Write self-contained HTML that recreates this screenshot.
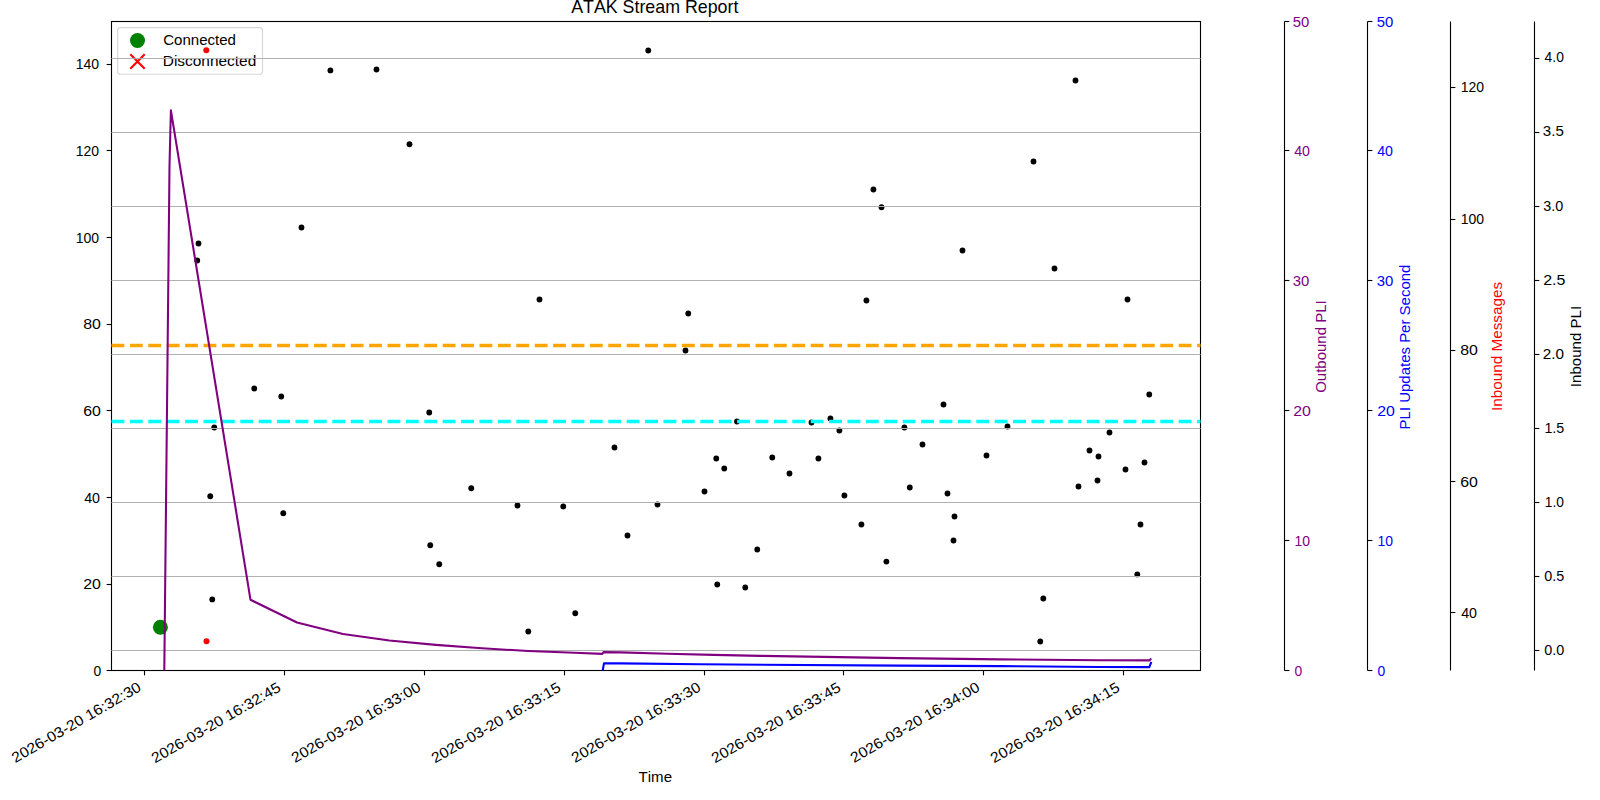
<!DOCTYPE html><html><head><meta charset="utf-8"><title>ATAK Stream Report</title><style>html,body{margin:0;padding:0;background:#fff;overflow:hidden}svg{display:block}text{font-family:"Liberation Sans",sans-serif;font-kerning:none}</style></head><body>
<svg width="1600" height="800" viewBox="0 0 1600 800">
<defs><clipPath id="ax"><rect x="111.2" y="21.2" width="1089.2" height="649.3"/></clipPath></defs>
<rect x="0" y="0" width="1600" height="800" fill="#fff"/>
<text x="571.20" y="13.00" fill="#000" font-size="17.584" textLength="167.19" lengthAdjust="spacingAndGlyphs">ATAK Stream Report</text>
<text x="638.60" y="782.00" fill="#000" font-size="14.653" textLength="33.44" lengthAdjust="spacingAndGlyphs">Time</text>
<text x="15.36" y="763.20" fill="#000" font-size="14.653" textLength="146.32" lengthAdjust="spacingAndGlyphs" transform="rotate(-30 15.36 763.20)">2026-03-20 16:32:30</text>
<text x="155.10" y="763.60" fill="#000" font-size="14.653" textLength="146.34" lengthAdjust="spacingAndGlyphs" transform="rotate(-30 155.10 763.60)">2026-03-20 16:32:45</text>
<text x="295.10" y="763.20" fill="#000" font-size="14.653" textLength="146.32" lengthAdjust="spacingAndGlyphs" transform="rotate(-30 295.10 763.20)">2026-03-20 16:33:00</text>
<text x="435.10" y="763.60" fill="#000" font-size="14.653" textLength="146.34" lengthAdjust="spacingAndGlyphs" transform="rotate(-30 435.10 763.60)">2026-03-20 16:33:15</text>
<text x="575.10" y="763.20" fill="#000" font-size="14.653" textLength="146.32" lengthAdjust="spacingAndGlyphs" transform="rotate(-30 575.10 763.20)">2026-03-20 16:33:30</text>
<text x="715.10" y="763.60" fill="#000" font-size="14.653" textLength="146.34" lengthAdjust="spacingAndGlyphs" transform="rotate(-30 715.10 763.60)">2026-03-20 16:33:45</text>
<text x="854.10" y="763.20" fill="#000" font-size="14.653" textLength="146.32" lengthAdjust="spacingAndGlyphs" transform="rotate(-30 854.10 763.20)">2026-03-20 16:34:00</text>
<text x="994.10" y="763.60" fill="#000" font-size="14.653" textLength="146.34" lengthAdjust="spacingAndGlyphs" transform="rotate(-30 994.10 763.60)">2026-03-20 16:34:15</text>
<text x="93.60" y="676.00" fill="#000" font-size="14.653" textLength="7.73" lengthAdjust="spacingAndGlyphs">0</text>
<text x="83.20" y="589.00" fill="#000" font-size="14.653" textLength="17.67" lengthAdjust="spacingAndGlyphs">20</text>
<text x="84.20" y="503.00" fill="#000" font-size="14.653" textLength="15.80" lengthAdjust="spacingAndGlyphs">40</text>
<text x="83.20" y="416.00" fill="#000" font-size="14.653" textLength="17.67" lengthAdjust="spacingAndGlyphs">60</text>
<text x="83.20" y="329.00" fill="#000" font-size="14.653" textLength="17.67" lengthAdjust="spacingAndGlyphs">80</text>
<text x="75.80" y="243.00" fill="#000" font-size="14.653" textLength="23.33" lengthAdjust="spacingAndGlyphs">100</text>
<text x="75.80" y="156.00" fill="#000" font-size="14.653" textLength="23.33" lengthAdjust="spacingAndGlyphs">120</text>
<text x="75.80" y="69.00" fill="#000" font-size="14.653" textLength="23.33" lengthAdjust="spacingAndGlyphs">140</text>
<circle cx="160.4" cy="627.3" r="7.5" fill="#008000"/>
<line x1="106.64" y1="670.5" x2="111.5" y2="670.5" stroke="#000" stroke-width="1.111"/>
<line x1="106.64" y1="584.5" x2="111.5" y2="584.5" stroke="#000" stroke-width="1.111"/>
<line x1="106.64" y1="497.5" x2="111.5" y2="497.5" stroke="#000" stroke-width="1.111"/>
<line x1="106.64" y1="410.5" x2="111.5" y2="410.5" stroke="#000" stroke-width="1.111"/>
<line x1="106.64" y1="324.5" x2="111.5" y2="324.5" stroke="#000" stroke-width="1.111"/>
<line x1="106.64" y1="237.5" x2="111.5" y2="237.5" stroke="#000" stroke-width="1.111"/>
<line x1="106.64" y1="150.5" x2="111.5" y2="150.5" stroke="#000" stroke-width="1.111"/>
<line x1="106.64" y1="64.5" x2="111.5" y2="64.5" stroke="#000" stroke-width="1.111"/>
<line x1="144.5" y1="670.5" x2="144.5" y2="675.36" stroke="#000" stroke-width="1.111"/>
<line x1="284.5" y1="670.5" x2="284.5" y2="675.36" stroke="#000" stroke-width="1.111"/>
<line x1="424.5" y1="670.5" x2="424.5" y2="675.36" stroke="#000" stroke-width="1.111"/>
<line x1="564.5" y1="670.5" x2="564.5" y2="675.36" stroke="#000" stroke-width="1.111"/>
<line x1="704.5" y1="670.5" x2="704.5" y2="675.36" stroke="#000" stroke-width="1.111"/>
<line x1="843.5" y1="670.5" x2="843.5" y2="675.36" stroke="#000" stroke-width="1.111"/>
<line x1="983.5" y1="670.5" x2="983.5" y2="675.36" stroke="#000" stroke-width="1.111"/>
<line x1="1123.5" y1="670.5" x2="1123.5" y2="675.36" stroke="#000" stroke-width="1.111"/>
<rect x="117.6" y="27.6" width="144.9" height="46.7" rx="2.8" ry="2.8" fill="#fff" fill-opacity="0.8" stroke="#cccccc" stroke-opacity="0.8" stroke-width="1.11"/>
<circle cx="137.5" cy="40.5" r="7.5" fill="#008000"/>
<path d="M130.3 54.3 L144.7 68.7 M144.7 54.3 L130.3 68.7" stroke="#ff0000" stroke-width="2.1" fill="none"/>
<text x="163.20" y="45.00" fill="#000" font-size="14.653" textLength="72.74" lengthAdjust="spacingAndGlyphs">Connected</text>
<text x="162.80" y="66.00" fill="#000" font-size="14.653" textLength="93.49" lengthAdjust="spacingAndGlyphs">Disconnected</text>
<rect x="111.5" y="21.5" width="1089.0" height="649.0" fill="none" stroke="#000" stroke-width="1.111"/>
<g fill="#000"><circle cx="198.5" cy="243.5" r="2.9"/><circle cx="197.25" cy="260.5" r="2.9"/><circle cx="214.25" cy="427.5" r="2.9"/><circle cx="210.25" cy="496.25" r="2.9"/><circle cx="212.25" cy="599.4" r="2.9"/><circle cx="254.25" cy="388.5" r="2.9"/><circle cx="281.25" cy="396.5" r="2.9"/><circle cx="283.25" cy="513.25" r="2.9"/><circle cx="301.5" cy="227.5" r="2.9"/><circle cx="330.4" cy="70.4" r="2.9"/><circle cx="376.5" cy="69.5" r="2.9"/><circle cx="409.5" cy="144.25" r="2.9"/><circle cx="429.25" cy="412.5" r="2.9"/><circle cx="430.25" cy="545.25" r="2.9"/><circle cx="439.25" cy="564.25" r="2.9"/><circle cx="471.25" cy="488.25" r="2.9"/><circle cx="517.5" cy="505.5" r="2.9"/><circle cx="528.3" cy="631.5" r="2.9"/><circle cx="539.5" cy="299.5" r="2.9"/><circle cx="563.25" cy="506.5" r="2.9"/><circle cx="575.25" cy="613.25" r="2.9"/><circle cx="614.5" cy="447.5" r="2.9"/><circle cx="627.5" cy="535.5" r="2.9"/><circle cx="648.25" cy="50.5" r="2.9"/><circle cx="657.5" cy="504.5" r="2.9"/><circle cx="685.5" cy="350.5" r="2.9"/><circle cx="688.25" cy="313.5" r="2.9"/><circle cx="704.5" cy="491.5" r="2.9"/><circle cx="716.25" cy="458.5" r="2.9"/><circle cx="717.25" cy="584.5" r="2.9"/><circle cx="724.25" cy="468.5" r="2.9"/><circle cx="737" cy="421.5" r="2.9"/><circle cx="745.25" cy="587.5" r="2.9"/><circle cx="757.25" cy="549.5" r="2.9"/><circle cx="772.25" cy="457.5" r="2.9"/><circle cx="789.5" cy="473.5" r="2.9"/><circle cx="811.5" cy="422.5" r="2.9"/><circle cx="818.4" cy="458.5" r="2.9"/><circle cx="830.4" cy="418.5" r="2.9"/><circle cx="839.4" cy="430.5" r="2.9"/><circle cx="844.4" cy="495.5" r="2.9"/><circle cx="861.4" cy="524.5" r="2.9"/><circle cx="866.4" cy="300.5" r="2.9"/><circle cx="873.4" cy="189.5" r="2.9"/><circle cx="881.5" cy="207.25" r="2.9"/><circle cx="886.4" cy="561.6" r="2.9"/><circle cx="904.4" cy="427.5" r="2.9"/><circle cx="909.8" cy="487.5" r="2.9"/><circle cx="922.5" cy="444.5" r="2.9"/><circle cx="943.5" cy="404.5" r="2.9"/><circle cx="947.5" cy="493.5" r="2.9"/><circle cx="953.5" cy="540.5" r="2.9"/><circle cx="954.5" cy="516.5" r="2.9"/><circle cx="962.5" cy="250.5" r="2.9"/><circle cx="986.5" cy="455.5" r="2.9"/><circle cx="1007.5" cy="426.5" r="2.9"/><circle cx="1033.5" cy="161.5" r="2.9"/><circle cx="1040.25" cy="641.5" r="2.9"/><circle cx="1043.3" cy="598.5" r="2.9"/><circle cx="1054.5" cy="268.5" r="2.9"/><circle cx="1075.5" cy="80.5" r="2.9"/><circle cx="1078.5" cy="486.5" r="2.9"/><circle cx="1089.5" cy="450.5" r="2.9"/><circle cx="1097.5" cy="480.5" r="2.9"/><circle cx="1098.5" cy="456.5" r="2.9"/><circle cx="1109.5" cy="432.5" r="2.9"/><circle cx="1125.5" cy="469.5" r="2.9"/><circle cx="1127.5" cy="299.5" r="2.9"/><circle cx="1137.3" cy="574.4" r="2.9"/><circle cx="1140.5" cy="524.5" r="2.9"/><circle cx="1144.5" cy="462.5" r="2.9"/><circle cx="1149.25" cy="394.5" r="2.9"/></g>
<line x1="111.5" y1="58.5" x2="1200.5" y2="58.5" stroke="#b0b0b0" stroke-width="1.111"/>
<line x1="111.5" y1="132.5" x2="1200.5" y2="132.5" stroke="#b0b0b0" stroke-width="1.111"/>
<line x1="111.5" y1="206.5" x2="1200.5" y2="206.5" stroke="#b0b0b0" stroke-width="1.111"/>
<line x1="111.5" y1="280.5" x2="1200.5" y2="280.5" stroke="#b0b0b0" stroke-width="1.111"/>
<line x1="111.5" y1="354.5" x2="1200.5" y2="354.5" stroke="#b0b0b0" stroke-width="1.111"/>
<line x1="111.5" y1="428.5" x2="1200.5" y2="428.5" stroke="#b0b0b0" stroke-width="1.111"/>
<line x1="111.5" y1="502.5" x2="1200.5" y2="502.5" stroke="#b0b0b0" stroke-width="1.111"/>
<line x1="111.5" y1="576.5" x2="1200.5" y2="576.5" stroke="#b0b0b0" stroke-width="1.111"/>
<line x1="111.5" y1="650.5" x2="1200.5" y2="650.5" stroke="#b0b0b0" stroke-width="1.111"/>
<line x1="111.5" y1="345.4" x2="1200.5" y2="345.4" stroke="#ffa500" stroke-width="3.47" stroke-dasharray="12.85 5.55"/>
<line x1="111.5" y1="421.4" x2="1200.5" y2="421.4" stroke="#00ffff" stroke-width="3.47" stroke-dasharray="12.85 5.55"/>
<path d="M164.3 670.5 L169.5 165.9 L170.9 110.3 L250.5 599.8 L297 622.5 L343 634 L389.4 640.5 L435.7 644.9 L482 648.3 L528.3 651.0 L574.6 652.8 L602.3 653.9 L603.5 652.1 L620.9 652.4 L667.2 653.7 L713.5 654.9 L760 655.85 L900 658.1 L1000 659.4 L1100 660.25 L1149.3 660.4 L1150.5 659.3" fill="none" stroke="#800080" stroke-width="2.08" stroke-linejoin="round" stroke-linecap="square" clip-path="url(#ax)"/>
<path d="M602.7 670.5 L604 663.4 L620 663.4 L700 664.25 L900 665.65 L1000 666.1 L1100 667 L1149.3 667.1 L1151 662.75" fill="none" stroke="#0000ff" stroke-width="2.08" stroke-linejoin="round" stroke-linecap="square" clip-path="url(#ax)"/>
<circle cx="206.3" cy="50.3" r="3" fill="#ff0000"/><circle cx="206.5" cy="641.3" r="3" fill="#ff0000"/>
<line x1="1284.5" y1="21.5" x2="1284.5" y2="670.5" stroke="#000" stroke-width="1.111"/>
<line x1="1367.5" y1="21.5" x2="1367.5" y2="670.5" stroke="#000" stroke-width="1.111"/>
<line x1="1450.5" y1="21.5" x2="1450.5" y2="670.5" stroke="#000" stroke-width="1.111"/>
<line x1="1534.5" y1="21.5" x2="1534.5" y2="670.5" stroke="#000" stroke-width="1.111"/>
<line x1="1284.5" y1="670.5" x2="1289.36" y2="670.5" stroke="#000" stroke-width="1.111"/>
<line x1="1284.5" y1="540.5" x2="1289.36" y2="540.5" stroke="#000" stroke-width="1.111"/>
<line x1="1284.5" y1="410.5" x2="1289.36" y2="410.5" stroke="#000" stroke-width="1.111"/>
<line x1="1284.5" y1="280.5" x2="1289.36" y2="280.5" stroke="#000" stroke-width="1.111"/>
<line x1="1284.5" y1="150.5" x2="1289.36" y2="150.5" stroke="#000" stroke-width="1.111"/>
<line x1="1284.5" y1="21.5" x2="1289.36" y2="21.5" stroke="#000" stroke-width="1.111"/>
<line x1="1367.5" y1="670.5" x2="1372.36" y2="670.5" stroke="#000" stroke-width="1.111"/>
<line x1="1367.5" y1="540.5" x2="1372.36" y2="540.5" stroke="#000" stroke-width="1.111"/>
<line x1="1367.5" y1="410.5" x2="1372.36" y2="410.5" stroke="#000" stroke-width="1.111"/>
<line x1="1367.5" y1="280.5" x2="1372.36" y2="280.5" stroke="#000" stroke-width="1.111"/>
<line x1="1367.5" y1="150.5" x2="1372.36" y2="150.5" stroke="#000" stroke-width="1.111"/>
<line x1="1367.5" y1="21.5" x2="1372.36" y2="21.5" stroke="#000" stroke-width="1.111"/>
<line x1="1450.5" y1="612.5" x2="1455.36" y2="612.5" stroke="#000" stroke-width="1.111"/>
<line x1="1450.5" y1="481.5" x2="1455.36" y2="481.5" stroke="#000" stroke-width="1.111"/>
<line x1="1450.5" y1="350.5" x2="1455.36" y2="350.5" stroke="#000" stroke-width="1.111"/>
<line x1="1450.5" y1="219.5" x2="1455.36" y2="219.5" stroke="#000" stroke-width="1.111"/>
<line x1="1450.5" y1="87.5" x2="1455.36" y2="87.5" stroke="#000" stroke-width="1.111"/>
<line x1="1534.5" y1="650.5" x2="1539.36" y2="650.5" stroke="#000" stroke-width="1.111"/>
<line x1="1534.5" y1="576.5" x2="1539.36" y2="576.5" stroke="#000" stroke-width="1.111"/>
<line x1="1534.5" y1="502.5" x2="1539.36" y2="502.5" stroke="#000" stroke-width="1.111"/>
<line x1="1534.5" y1="428.5" x2="1539.36" y2="428.5" stroke="#000" stroke-width="1.111"/>
<line x1="1534.5" y1="354.5" x2="1539.36" y2="354.5" stroke="#000" stroke-width="1.111"/>
<line x1="1534.5" y1="280.5" x2="1539.36" y2="280.5" stroke="#000" stroke-width="1.111"/>
<line x1="1534.5" y1="206.5" x2="1539.36" y2="206.5" stroke="#000" stroke-width="1.111"/>
<line x1="1534.5" y1="132.5" x2="1539.36" y2="132.5" stroke="#000" stroke-width="1.111"/>
<line x1="1534.5" y1="58.5" x2="1539.36" y2="58.5" stroke="#000" stroke-width="1.111"/>
<text x="1294.60" y="676.00" fill="#800080" font-size="14.653" textLength="7.73" lengthAdjust="spacingAndGlyphs">0</text>
<text x="1294.40" y="546.00" fill="#800080" font-size="14.653" textLength="15.54" lengthAdjust="spacingAndGlyphs">10</text>
<text x="1293.20" y="416.00" fill="#800080" font-size="14.653" textLength="17.67" lengthAdjust="spacingAndGlyphs">20</text>
<text x="1292.80" y="286.00" fill="#800080" font-size="14.653" textLength="16.57" lengthAdjust="spacingAndGlyphs">30</text>
<text x="1294.20" y="156.00" fill="#800080" font-size="14.653" textLength="15.80" lengthAdjust="spacingAndGlyphs">40</text>
<text x="1292.80" y="27.00" fill="#800080" font-size="14.653" textLength="16.57" lengthAdjust="spacingAndGlyphs">50</text>
<text x="1377.60" y="676.00" fill="#0000ff" font-size="14.653" textLength="7.73" lengthAdjust="spacingAndGlyphs">0</text>
<text x="1377.40" y="546.00" fill="#0000ff" font-size="14.653" textLength="15.54" lengthAdjust="spacingAndGlyphs">10</text>
<text x="1377.20" y="416.00" fill="#0000ff" font-size="14.653" textLength="17.67" lengthAdjust="spacingAndGlyphs">20</text>
<text x="1376.80" y="286.00" fill="#0000ff" font-size="14.653" textLength="16.57" lengthAdjust="spacingAndGlyphs">30</text>
<text x="1377.20" y="156.00" fill="#0000ff" font-size="14.653" textLength="15.80" lengthAdjust="spacingAndGlyphs">40</text>
<text x="1376.80" y="27.00" fill="#0000ff" font-size="14.653" textLength="16.57" lengthAdjust="spacingAndGlyphs">50</text>
<text x="1461.20" y="618.00" fill="#000" font-size="14.653" textLength="15.80" lengthAdjust="spacingAndGlyphs">40</text>
<text x="1460.20" y="487.00" fill="#000" font-size="14.653" textLength="17.67" lengthAdjust="spacingAndGlyphs">60</text>
<text x="1460.20" y="355.00" fill="#000" font-size="14.653" textLength="17.67" lengthAdjust="spacingAndGlyphs">80</text>
<text x="1460.80" y="224.00" fill="#000" font-size="14.653" textLength="23.33" lengthAdjust="spacingAndGlyphs">100</text>
<text x="1460.80" y="92.00" fill="#000" font-size="14.653" textLength="23.33" lengthAdjust="spacingAndGlyphs">120</text>
<text x="1544.20" y="655.00" fill="#000" font-size="14.653" textLength="19.98" lengthAdjust="spacingAndGlyphs">0.0</text>
<text x="1544.20" y="581.00" fill="#000" font-size="14.653" textLength="19.93" lengthAdjust="spacingAndGlyphs">0.5</text>
<text x="1544.80" y="507.00" fill="#000" font-size="14.653" textLength="19.11" lengthAdjust="spacingAndGlyphs">1.0</text>
<text x="1544.40" y="433.00" fill="#000" font-size="14.653" textLength="19.88" lengthAdjust="spacingAndGlyphs">1.5</text>
<text x="1542.80" y="359.00" fill="#000" font-size="14.653" textLength="21.19" lengthAdjust="spacingAndGlyphs">2.0</text>
<text x="1543.20" y="285.00" fill="#000" font-size="14.653" textLength="22.25" lengthAdjust="spacingAndGlyphs">2.5</text>
<text x="1543.20" y="211.00" fill="#000" font-size="14.653" textLength="19.98" lengthAdjust="spacingAndGlyphs">3.0</text>
<text x="1542.80" y="136.00" fill="#000" font-size="14.653" textLength="20.98" lengthAdjust="spacingAndGlyphs">3.5</text>
<text x="1544.60" y="62.00" fill="#000" font-size="14.653" textLength="19.24" lengthAdjust="spacingAndGlyphs">4.0</text>
<text x="1326.30" y="392.87" fill="#800080" font-size="14.653" textLength="92.56" lengthAdjust="spacingAndGlyphs" transform="rotate(-90 1326.30 392.87)">Outbound PLI</text>
<text x="1410.20" y="429.37" fill="#0000ff" font-size="14.653" textLength="164.74" lengthAdjust="spacingAndGlyphs" transform="rotate(-90 1410.20 429.37)">PLI Updates Per Second</text>
<text x="1502.20" y="411.08" fill="#ff0000" font-size="14.653" textLength="129.16" lengthAdjust="spacingAndGlyphs" transform="rotate(-90 1502.20 411.08)">Inbound Messages</text>
<text x="1581.30" y="387.13" fill="#000" font-size="14.653" textLength="81.26" lengthAdjust="spacingAndGlyphs" transform="rotate(-90 1581.30 387.13)">Inbound PLI</text>
</svg></body></html>
